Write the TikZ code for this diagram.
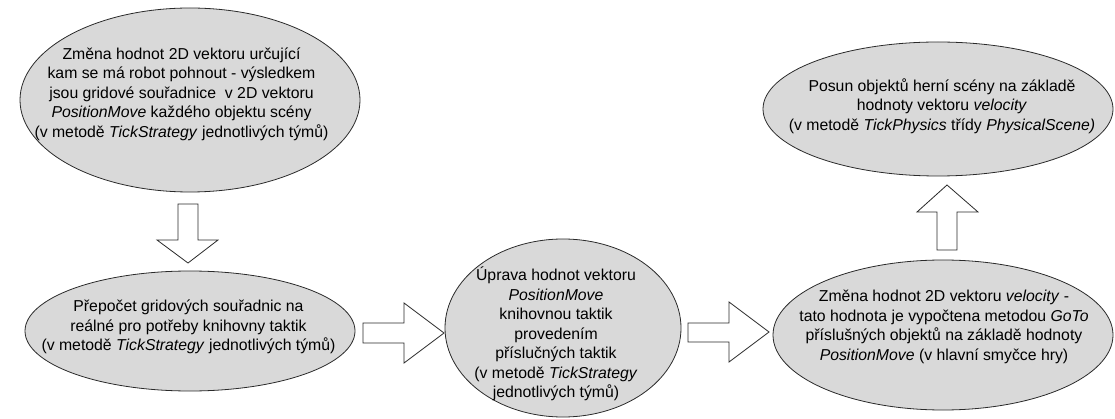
\documentclass[tikz,border=0pt]{standalone}
\usepackage{fontspec}
\setmainfont{Liberation Sans}
\usetikzlibrary{shapes.geometric}
\definecolor{bubblefill}{HTML}{D9D9D9}
\definecolor{edgegray}{HTML}{2A2A2A}
\begin{document}
\begin{tikzpicture}[x=1pt,y=-1pt,
  bubble/.style={ellipse, draw=edgegray, fill=bubblefill, line width=0.8pt, inner sep=0pt, outer sep=0pt},
  caption/.style={align=center, inner sep=0pt, font=\fontsize{15.8}{19.5}\selectfont},
  blockarrow/.style={draw=edgegray, fill=white, line width=0.8pt, line join=miter}]
\useasboundingbox (0,0) rectangle (1115,419);

% process steps
\node[bubble, minimum width=340pt, minimum height=184pt] (change) at (190,100) {};
\node[caption] (changetext) at (181.5,94) {Změna hodnot 2D vektoru určující\\
kam se má robot pohnout - výsledkem\\
jsou gridové souřadnice\ \ v 2D vektoru\\
\textit{PositionMove} každého objektu scény\\
(v metodě \textit{TickStrategy} jednotlivých týmů)};

\node[bubble, minimum width=330pt, minimum height=120pt] (convert) at (190,331) {};
\node[caption] (converttext) at (188.5,327) {Přepočet gridových souřadnic na\\
reálné pro potřeby knihovny taktik\\
(v metodě \textit{TickStrategy} jednotlivých týmů)};

\node[bubble, minimum width=236pt, minimum height=178pt] (adjust) at (563,328) {};
\node[caption] (adjusttext) at (556,334) {Úprava hodnot vektoru\\
\textit{PositionMove}\\
knihovnou taktik\\
provedením\\
příslučných taktik\\
(v metodě \textit{TickStrategy}\\
jednotlivých týmů)};

\node[bubble, minimum width=340pt, minimum height=150pt] (velocity) at (943,335) {};
\node[caption] (velocitytext) at (944,327) {Změna hodnot 2D vektoru \textit{velocity} -\\
tato hodnota je vypočtena metodou \textit{GoTo}\\
příslušných objektů na základě hodnoty\\
\textit{PositionMove} (v hlavní smyčce hry)};

\node[bubble, minimum width=350pt, minimum height=134pt] (move) at (938,109) {};
\node[caption] (movetext) at (942,106) {Posun objektů herní scény na základě\\
hodnoty vektoru \textit{velocity}\\
(v metodě \textit{TickPhysics} třídy \textit{PhysicalScene)}};

% block arrows between the steps
\draw[blockarrow] (178,204) -- (198,204) -- (198,240) -- (218,240) -- (188,263) -- (157,240) -- (178,240) -- cycle;
\draw[blockarrow] (363,323) -- (404,323) -- (404,303) -- (444,333) -- (404,363) -- (404,343) -- (363,343) -- cycle;
\draw[blockarrow] (688,323) -- (729,323) -- (729,302) -- (769,332) -- (729,362) -- (729,342) -- (688,342) -- cycle;
\draw[blockarrow] (937,250) -- (957,250) -- (957,212) -- (978,212) -- (947,185) -- (917,212) -- (937,212) -- cycle;
\end{tikzpicture}
\end{document}
